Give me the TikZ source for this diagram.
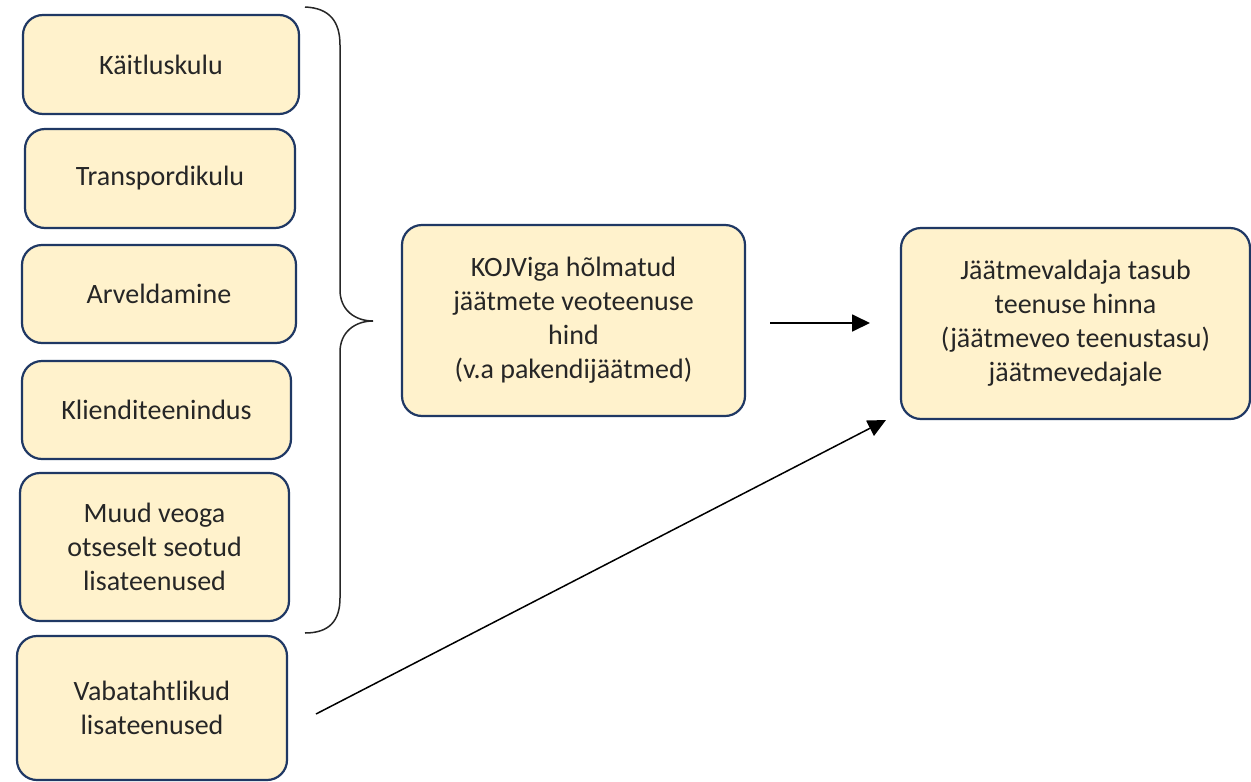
\documentclass[tikz,border=0pt]{standalone}
\usepackage{fontspec}
\setmainfont{Carlito}
\usetikzlibrary{arrows.meta}
\definecolor{boxfill}{HTML}{FFF2CC}
\definecolor{boxline}{HTML}{1F3864}
\definecolor{txt}{HTML}{262626}
\begin{document}
\begin{tikzpicture}[x=1pt,y=-1pt,
  box/.style={draw=boxline, line width=2.2pt, fill=boxfill, rounded corners=20pt,
    inner sep=0pt, align=center, text=txt,
    font=\fontsize{28}{34}\selectfont},
  arr/.style={line width=1.8pt, -{Triangle[length=18pt,width=17pt]}}]
\useasboundingbox (0,0) rectangle (1251,782);
\path[fill=white] (0,0) rectangle (1251,782);
\node[box, minimum width=276pt, minimum height=99pt] (b1) at (161,64.5) {Käitluskulu};
\node[box, minimum width=270pt, minimum height=99pt] (b2) at (160,178.5) {Transpordikulu};
\node[box, minimum width=274pt, minimum height=98pt] (b3) at (159,294) {Arveldamine};
\node[box, minimum width=269pt, minimum height=98pt] (b4) at (156.5,410) {Klienditeenindus};
\node[box, minimum width=269pt, minimum height=148pt] (b5) at (154.5,547) {Muud veoga\\otseselt seotud\\lisateenused};
\node[box, minimum width=270pt, minimum height=144pt] (b6) at (152,708) {Vabatahtlikud\\lisateenused};
\node[box, minimum width=343pt, minimum height=191pt] (m) at (573.5,320.5) {KOJViga hõlmatud\\jäätmete veoteenuse\\hind\\(v.a pakendijäätmed)};
\node[box, minimum width=349pt, minimum height=191pt] (r) at (1075.5,323.5) {Jäätmevaldaja tasub\\teenuse hinna\\(jäätmeveo teenustasu)\\jäätmevedajale};
% brace
\coordinate (btop) at (305,7);
\coordinate (btip) at (373,321);
\coordinate (bbot) at (305,633);
\draw[line width=1.5pt, color=black!85] (btop) .. controls (330,8) and (340,22) .. (340,45)
  -- (340,290) .. controls (340,310) and (355,321) .. (btip)
  .. controls (355,321) and (340,332) .. (340,352)
  -- (340,598) .. controls (340,620) and (330,633) .. (bbot);
% arrows
\coordinate (a1s) at (770,323);
\coordinate (a1e) at (870,323);
\draw[arr] (a1s) -- (a1e);
\coordinate (a2s) at (316,714);
\coordinate (a2e) at (886,420);
\draw[arr, line width=1.5pt] (a2s) -- (a2e);
\end{tikzpicture}
\end{document}
